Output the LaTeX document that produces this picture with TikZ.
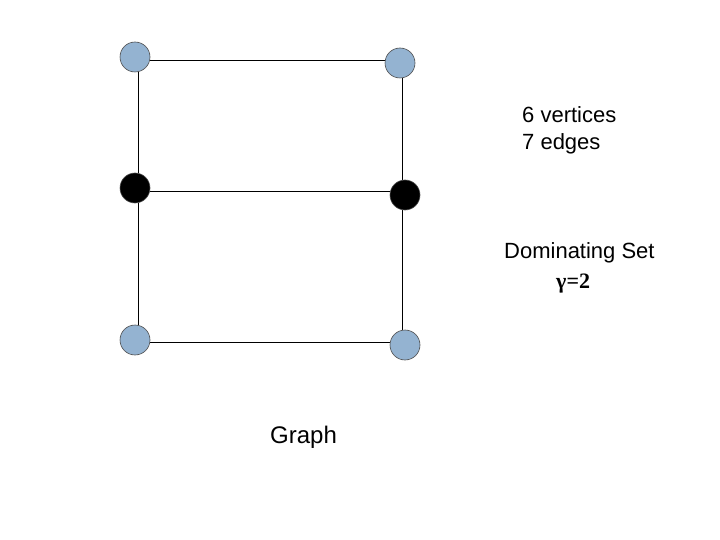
\documentclass[tikz,border=0pt]{standalone}
\usepackage{fontspec}
\setmainfont{Liberation Sans}
\newfontfamily\serifx{Liberation Serif}
\begin{document}
\begin{tikzpicture}[x=1pt,y=-1pt,
  vtx/.style={circle,draw=black!70,line width=0.6pt,minimum size=30pt,inner sep=0pt},
  light/.style={vtx,fill={rgb,255:red,148;green,179;blue,209}},
  dark/.style={vtx,fill=black},
  edge/.style={draw=black,line width=0.6pt},
  lbl/.style={font=\fontsize{22}{26}\selectfont,anchor=west,inner sep=0pt}]
\useasboundingbox (0,0) rectangle (720,540);
\coordinate (a1) at (150,60); \coordinate (a2) at (386,60);
\coordinate (b1) at (150,191); \coordinate (b2) at (390,191);
\coordinate (c1) at (150,342); \coordinate (c2) at (390,342);
\coordinate (l1) at (138,72); \coordinate (l2) at (138,173);
\coordinate (l3) at (138,203); \coordinate (l4) at (138,325);
\coordinate (r1) at (402,78); \coordinate (r2) at (402,180);
\coordinate (r3) at (402,210); \coordinate (r4) at (402,330);
\path[edge] (a1) -- (a2) (b1) -- (b2) (c1) -- (c2)
  (l1) -- (l2) (l3) -- (l4) (r1) -- (r2) (r3) -- (r4);
\node[light] (tl) at (135,57) {};
\node[light] (tr) at (400,63) {};
\node[dark] (ml) at (135,188) {};
\node[dark] (mr) at (405,195) {};
\node[light] (bl) at (135,340) {};
\node[light] (br) at (405,345) {};
\node[lbl] (v) at (522,115) {6 vertices};
\node[lbl] (e) at (522,144) {7 edges};
\node[lbl] (d) at (504,253) {Dominating Set};
\node[lbl,font=\serifx\bfseries\fontsize{22}{26}\selectfont] (g) at (556,284) {γ=2};
\node[lbl,font=\fontsize{24}{28}\selectfont] (gr) at (270,437) {Graph};
\end{tikzpicture}
\end{document}
